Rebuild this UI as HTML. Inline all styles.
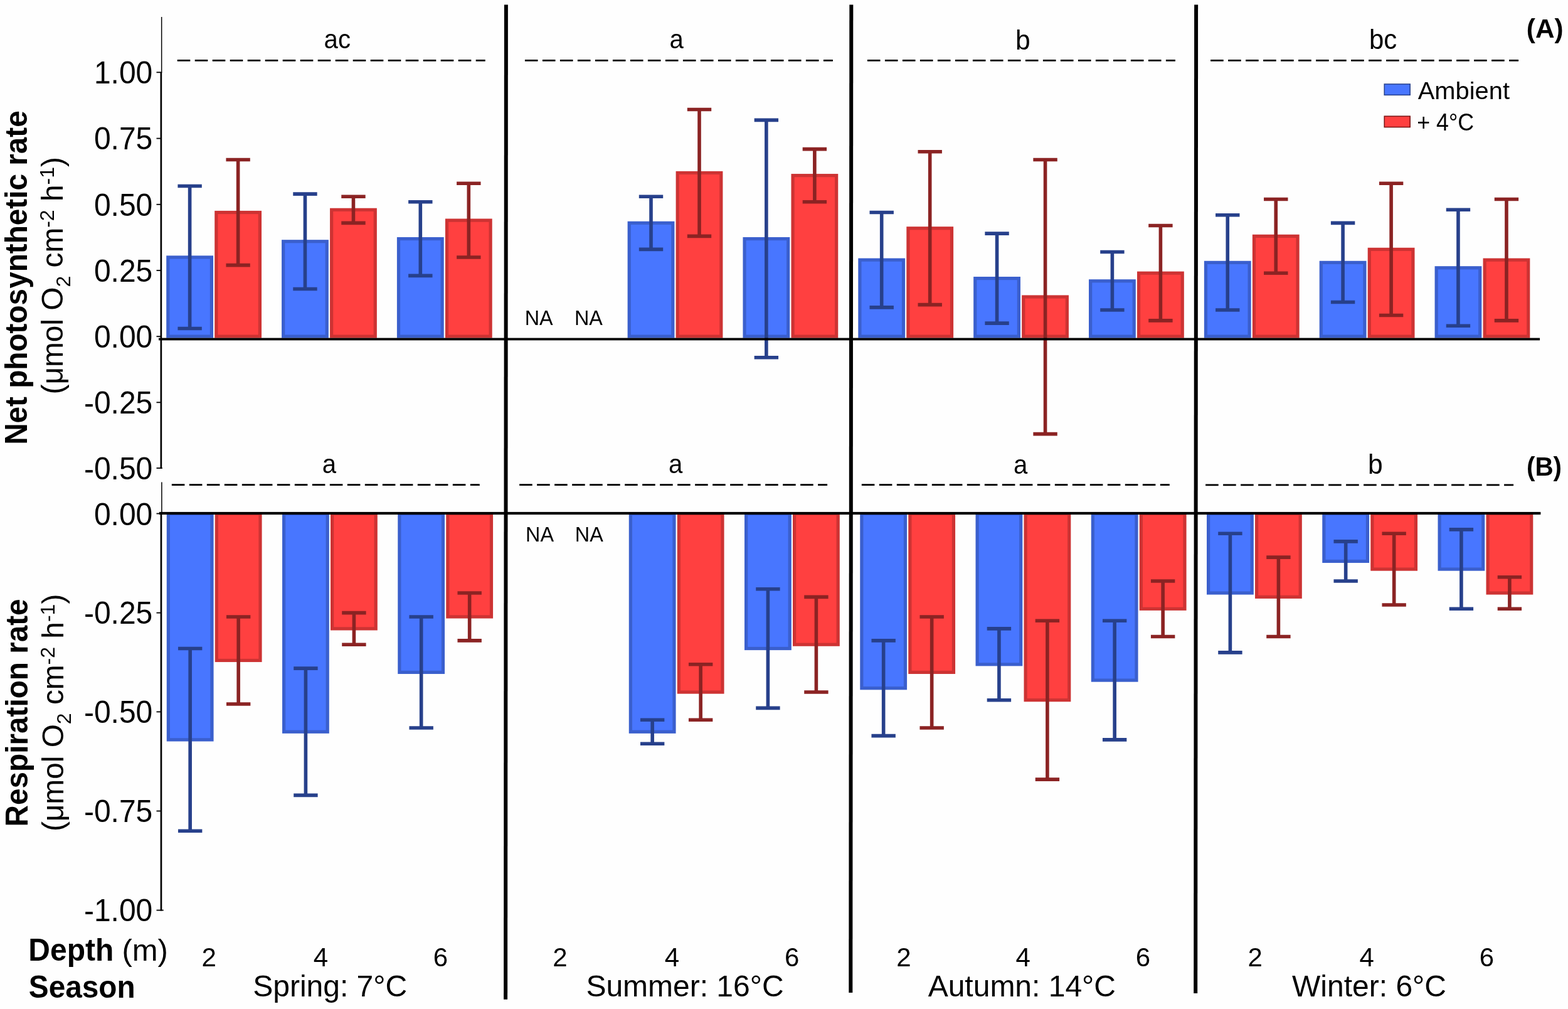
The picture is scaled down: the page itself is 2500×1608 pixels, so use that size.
<!DOCTYPE html>
<html lang="en"><head><meta charset="utf-8"><title>Net photosynthetic and respiration rates by season and depth</title>
<style>html,body{margin:0;padding:0;background:#fff}body{width:2500px;height:1608px;overflow:hidden}svg{display:block}text{font-family:"Liberation Sans",sans-serif;fill:#000}.b{font-weight:bold}</style></head><body>
<svg width="2500" height="1608" viewBox="0 0 2500 1608">
<rect width="2500" height="1608" fill="#fefefe"/>
<g id="barsA">
<rect x="265.2" y="407.38" width="74.8" height="131.32" fill="#3A5FCD"/>
<rect x="270.4" y="412.58" width="64.4" height="120.92" fill="#4876FF"/>
<rect x="342.2" y="335.91" width="74.8" height="202.79" fill="#CD3333"/>
<rect x="347.4" y="341.11" width="64.4" height="192.39" fill="#FF4040"/>
<rect x="449.05" y="382.16" width="74.8" height="156.54" fill="#3A5FCD"/>
<rect x="454.25" y="387.36" width="64.4" height="146.14" fill="#4876FF"/>
<rect x="526.05" y="331.71" width="74.8" height="206.99" fill="#CD3333"/>
<rect x="531.25" y="336.91" width="64.4" height="196.59" fill="#FF4040"/>
<rect x="632.9" y="377.95" width="74.8" height="160.75" fill="#3A5FCD"/>
<rect x="638.1" y="383.15" width="64.4" height="150.35" fill="#4876FF"/>
<rect x="709.9" y="348.52" width="74.8" height="190.18" fill="#CD3333"/>
<rect x="715.1" y="353.72" width="64.4" height="179.78" fill="#FF4040"/>
<rect x="1000.6" y="352.73" width="74.8" height="185.97" fill="#3A5FCD"/>
<rect x="1005.8" y="357.93" width="64.4" height="175.57" fill="#4876FF"/>
<rect x="1077.6" y="272.85" width="74.8" height="265.85" fill="#CD3333"/>
<rect x="1082.8" y="278.05" width="64.4" height="255.45" fill="#FF4040"/>
<rect x="1184.45" y="377.95" width="74.8" height="160.75" fill="#3A5FCD"/>
<rect x="1189.65" y="383.15" width="64.4" height="150.35" fill="#4876FF"/>
<rect x="1261.45" y="277.06" width="74.8" height="261.64" fill="#CD3333"/>
<rect x="1266.65" y="282.26" width="64.4" height="251.24" fill="#FF4040"/>
<rect x="1368.3" y="411.58" width="74.8" height="127.12" fill="#3A5FCD"/>
<rect x="1373.5" y="416.78" width="64.4" height="116.72" fill="#4876FF"/>
<rect x="1445.3" y="361.14" width="74.8" height="177.56" fill="#CD3333"/>
<rect x="1450.5" y="366.34" width="64.4" height="167.16" fill="#FF4040"/>
<rect x="1552.15" y="441.01" width="74.8" height="97.69" fill="#3A5FCD"/>
<rect x="1557.35" y="446.21" width="64.4" height="87.29" fill="#4876FF"/>
<rect x="1629.15" y="470.44" width="74.8" height="68.26" fill="#CD3333"/>
<rect x="1634.35" y="475.64" width="64.4" height="57.86" fill="#FF4040"/>
<rect x="1736" y="445.22" width="74.8" height="93.48" fill="#3A5FCD"/>
<rect x="1741.2" y="450.42" width="64.4" height="83.08" fill="#4876FF"/>
<rect x="1813" y="432.6" width="74.8" height="106.1" fill="#CD3333"/>
<rect x="1818.2" y="437.8" width="64.4" height="95.7" fill="#FF4040"/>
<rect x="1919.85" y="415.79" width="74.8" height="122.91" fill="#3A5FCD"/>
<rect x="1925.05" y="420.99" width="64.4" height="112.51" fill="#4876FF"/>
<rect x="1996.85" y="373.75" width="74.8" height="164.95" fill="#CD3333"/>
<rect x="2002.05" y="378.95" width="64.4" height="154.55" fill="#FF4040"/>
<rect x="2103.7" y="415.79" width="74.8" height="122.91" fill="#3A5FCD"/>
<rect x="2108.9" y="420.99" width="64.4" height="112.51" fill="#4876FF"/>
<rect x="2180.7" y="394.77" width="74.8" height="143.93" fill="#CD3333"/>
<rect x="2185.9" y="399.97" width="64.4" height="133.53" fill="#FF4040"/>
<rect x="2287.55" y="424.2" width="74.8" height="114.5" fill="#3A5FCD"/>
<rect x="2292.75" y="429.4" width="64.4" height="104.1" fill="#4876FF"/>
<rect x="2364.55" y="411.58" width="74.8" height="127.12" fill="#CD3333"/>
<rect x="2369.75" y="416.78" width="64.4" height="116.72" fill="#FF4040"/>
</g>
<g id="errA">
<path d="M283.4 296.47H321.8M283.4 523.49H321.8M302.6 296.47V523.49" stroke="#27408B" stroke-width="5.6" fill="none"/>
<path d="M360.4 254.43H398.8M360.4 422.59H398.8M379.6 254.43V422.59" stroke="#8B2323" stroke-width="5.6" fill="none"/>
<path d="M467.25 309.08H505.65M467.25 460.43H505.65M486.45 309.08V460.43" stroke="#27408B" stroke-width="5.6" fill="none"/>
<path d="M544.25 313.29H582.65M544.25 355.33H582.65M563.45 313.29V355.33" stroke="#8B2323" stroke-width="5.6" fill="none"/>
<path d="M651.1 321.7H689.5M651.1 439.41H689.5M670.3 321.7V439.41" stroke="#27408B" stroke-width="5.6" fill="none"/>
<path d="M728.1 292.27H766.5M728.1 409.98H766.5M747.3 292.27V409.98" stroke="#8B2323" stroke-width="5.6" fill="none"/>
<path d="M1018.8 313.29H1057.2M1018.8 397.37H1057.2M1038 313.29V397.37" stroke="#27408B" stroke-width="5.6" fill="none"/>
<path d="M1095.8 174.56H1134.2M1095.8 376.35H1134.2M1115 174.56V376.35" stroke="#8B2323" stroke-width="5.6" fill="none"/>
<path d="M1202.65 191.37H1241.05M1202.65 569.73H1241.05M1221.85 191.37V569.73" stroke="#27408B" stroke-width="5.6" fill="none"/>
<path d="M1279.65 237.62H1318.05M1279.65 321.7H1318.05M1298.85 237.62V321.7" stroke="#8B2323" stroke-width="5.6" fill="none"/>
<path d="M1386.5 338.51H1424.9M1386.5 489.86H1424.9M1405.7 338.51V489.86" stroke="#27408B" stroke-width="5.6" fill="none"/>
<path d="M1463.5 241.82H1501.9M1463.5 485.65H1501.9M1482.7 241.82V485.65" stroke="#8B2323" stroke-width="5.6" fill="none"/>
<path d="M1570.35 372.14H1608.75M1570.35 515.08H1608.75M1589.55 372.14V515.08" stroke="#27408B" stroke-width="5.6" fill="none"/>
<path d="M1647.35 254.43H1685.75M1647.35 691.65H1685.75M1666.55 254.43V691.65" stroke="#8B2323" stroke-width="5.6" fill="none"/>
<path d="M1754.2 401.57H1792.6M1754.2 494.06H1792.6M1773.4 401.57V494.06" stroke="#27408B" stroke-width="5.6" fill="none"/>
<path d="M1831.2 359.53H1869.6M1831.2 510.88H1869.6M1850.4 359.53V510.88" stroke="#8B2323" stroke-width="5.6" fill="none"/>
<path d="M1938.05 342.72H1976.45M1938.05 494.06H1976.45M1957.25 342.72V494.06" stroke="#27408B" stroke-width="5.6" fill="none"/>
<path d="M2015.05 317.49H2053.45M2015.05 435.2H2053.45M2034.25 317.49V435.2" stroke="#8B2323" stroke-width="5.6" fill="none"/>
<path d="M2121.9 355.33H2160.3M2121.9 481.45H2160.3M2141.1 355.33V481.45" stroke="#27408B" stroke-width="5.6" fill="none"/>
<path d="M2198.9 292.27H2237.3M2198.9 502.47H2237.3M2218.1 292.27V502.47" stroke="#8B2323" stroke-width="5.6" fill="none"/>
<path d="M2305.75 334.31H2344.15M2305.75 519.28H2344.15M2324.95 334.31V519.28" stroke="#27408B" stroke-width="5.6" fill="none"/>
<path d="M2382.75 317.49H2421.15M2382.75 510.88H2421.15M2401.95 317.49V510.88" stroke="#8B2323" stroke-width="5.6" fill="none"/>
</g>
<g id="barsB">
<rect x="265.75" y="816" width="74.8" height="365.5" fill="#3A5FCD"/>
<rect x="270.95" y="821.2" width="64.4" height="355.1" fill="#4876FF"/>
<rect x="342.75" y="816" width="74.8" height="239.08" fill="#CD3333"/>
<rect x="347.95" y="821.2" width="64.4" height="228.68" fill="#FF4040"/>
<rect x="450" y="816" width="74.8" height="352.86" fill="#3A5FCD"/>
<rect x="455.2" y="821.2" width="64.4" height="342.46" fill="#4876FF"/>
<rect x="527" y="816" width="74.8" height="188.51" fill="#CD3333"/>
<rect x="532.2" y="821.2" width="64.4" height="178.11" fill="#FF4040"/>
<rect x="634.25" y="816" width="74.8" height="258.04" fill="#3A5FCD"/>
<rect x="639.45" y="821.2" width="64.4" height="247.64" fill="#4876FF"/>
<rect x="711.25" y="816" width="74.8" height="169.55" fill="#CD3333"/>
<rect x="716.45" y="821.2" width="64.4" height="159.15" fill="#FF4040"/>
<rect x="1002.75" y="816" width="74.8" height="352.86" fill="#3A5FCD"/>
<rect x="1007.95" y="821.2" width="64.4" height="342.46" fill="#4876FF"/>
<rect x="1079.75" y="816" width="74.8" height="289.64" fill="#CD3333"/>
<rect x="1084.95" y="821.2" width="64.4" height="279.25" fill="#FF4040"/>
<rect x="1187" y="816" width="74.8" height="220.11" fill="#3A5FCD"/>
<rect x="1192.2" y="821.2" width="64.4" height="209.71" fill="#4876FF"/>
<rect x="1264" y="816" width="74.8" height="213.79" fill="#CD3333"/>
<rect x="1269.2" y="821.2" width="64.4" height="203.39" fill="#FF4040"/>
<rect x="1371.25" y="816" width="74.8" height="283.32" fill="#3A5FCD"/>
<rect x="1376.45" y="821.2" width="64.4" height="272.92" fill="#4876FF"/>
<rect x="1448.25" y="816" width="74.8" height="258.04" fill="#CD3333"/>
<rect x="1453.45" y="821.2" width="64.4" height="247.64" fill="#FF4040"/>
<rect x="1555.5" y="816" width="74.8" height="245.4" fill="#3A5FCD"/>
<rect x="1560.7" y="821.2" width="64.4" height="235" fill="#4876FF"/>
<rect x="1632.5" y="816" width="74.8" height="302.29" fill="#CD3333"/>
<rect x="1637.7" y="821.2" width="64.4" height="291.89" fill="#FF4040"/>
<rect x="1739.75" y="816" width="74.8" height="270.68" fill="#3A5FCD"/>
<rect x="1744.95" y="821.2" width="64.4" height="260.28" fill="#4876FF"/>
<rect x="1816.75" y="816" width="74.8" height="156.9" fill="#CD3333"/>
<rect x="1821.95" y="821.2" width="64.4" height="146.5" fill="#FF4040"/>
<rect x="1924" y="816" width="74.8" height="131.62" fill="#3A5FCD"/>
<rect x="1929.2" y="821.2" width="64.4" height="121.22" fill="#4876FF"/>
<rect x="2001" y="816" width="74.8" height="137.94" fill="#CD3333"/>
<rect x="2006.2" y="821.2" width="64.4" height="127.54" fill="#FF4040"/>
<rect x="2108.25" y="816" width="74.8" height="81.05" fill="#3A5FCD"/>
<rect x="2113.45" y="821.2" width="64.4" height="70.65" fill="#4876FF"/>
<rect x="2185.25" y="816" width="74.8" height="93.69" fill="#CD3333"/>
<rect x="2190.45" y="821.2" width="64.4" height="83.29" fill="#FF4040"/>
<rect x="2292.5" y="816" width="74.8" height="93.69" fill="#3A5FCD"/>
<rect x="2297.7" y="821.2" width="64.4" height="83.29" fill="#4876FF"/>
<rect x="2369.5" y="816" width="74.8" height="131.62" fill="#CD3333"/>
<rect x="2374.7" y="821.2" width="64.4" height="121.22" fill="#FF4040"/>
</g>
<g id="errB">
<path d="M283.95 1033.51H322.35M283.95 1324.28H322.35M303.15 1033.51V1324.28" stroke="#27408B" stroke-width="5.6" fill="none"/>
<path d="M360.95 982.95H399.35M360.95 1122.01H399.35M380.15 982.95V1122.01" stroke="#8B2323" stroke-width="5.6" fill="none"/>
<path d="M468.2 1065.12H506.6M468.2 1267.39H506.6M487.4 1065.12V1267.39" stroke="#27408B" stroke-width="5.6" fill="none"/>
<path d="M545.2 976.62H583.6M545.2 1027.19H583.6M564.4 976.62V1027.19" stroke="#8B2323" stroke-width="5.6" fill="none"/>
<path d="M652.45 982.95H690.85M652.45 1159.93H690.85M671.65 982.95V1159.93" stroke="#27408B" stroke-width="5.6" fill="none"/>
<path d="M729.45 945.02H767.85M729.45 1020.87H767.85M748.65 945.02V1020.87" stroke="#8B2323" stroke-width="5.6" fill="none"/>
<path d="M1020.95 1147.29H1059.35M1020.95 1185.22H1059.35M1040.15 1147.29V1185.22" stroke="#27408B" stroke-width="5.6" fill="none"/>
<path d="M1097.95 1058.8H1136.35M1097.95 1147.29H1136.35M1117.15 1058.8V1147.29" stroke="#8B2323" stroke-width="5.6" fill="none"/>
<path d="M1205.2 938.7H1243.6M1205.2 1128.33H1243.6M1224.4 938.7V1128.33" stroke="#27408B" stroke-width="5.6" fill="none"/>
<path d="M1282.2 951.34H1320.6M1282.2 1103.05H1320.6M1301.4 951.34V1103.05" stroke="#8B2323" stroke-width="5.6" fill="none"/>
<path d="M1389.45 1020.87H1427.85M1389.45 1172.58H1427.85M1408.65 1020.87V1172.58" stroke="#27408B" stroke-width="5.6" fill="none"/>
<path d="M1466.45 982.95H1504.85M1466.45 1159.93H1504.85M1485.65 982.95V1159.93" stroke="#8B2323" stroke-width="5.6" fill="none"/>
<path d="M1573.7 1001.91H1612.1M1573.7 1115.69H1612.1M1592.9 1001.91V1115.69" stroke="#27408B" stroke-width="5.6" fill="none"/>
<path d="M1650.7 989.27H1689.1M1650.7 1242.11H1689.1M1669.9 989.27V1242.11" stroke="#8B2323" stroke-width="5.6" fill="none"/>
<path d="M1757.95 989.27H1796.35M1757.95 1178.9H1796.35M1777.15 989.27V1178.9" stroke="#27408B" stroke-width="5.6" fill="none"/>
<path d="M1834.95 926.06H1873.35M1834.95 1014.55H1873.35M1854.15 926.06V1014.55" stroke="#8B2323" stroke-width="5.6" fill="none"/>
<path d="M1942.2 850.21H1980.6M1942.2 1039.84H1980.6M1961.4 850.21V1039.84" stroke="#27408B" stroke-width="5.6" fill="none"/>
<path d="M2019.2 888.13H2057.6M2019.2 1014.55H2057.6M2038.4 888.13V1014.55" stroke="#8B2323" stroke-width="5.6" fill="none"/>
<path d="M2126.45 862.85H2164.85M2126.45 926.06H2164.85M2145.65 862.85V926.06" stroke="#27408B" stroke-width="5.6" fill="none"/>
<path d="M2203.45 850.21H2241.85M2203.45 963.98H2241.85M2222.65 850.21V963.98" stroke="#8B2323" stroke-width="5.6" fill="none"/>
<path d="M2310.7 843.88H2349.1M2310.7 970.3H2349.1M2329.9 843.88V970.3" stroke="#27408B" stroke-width="5.6" fill="none"/>
<path d="M2387.7 919.74H2426.1M2387.7 970.3H2426.1M2406.9 919.74V970.3" stroke="#8B2323" stroke-width="5.6" fill="none"/>
</g>
<g fill="#000">
<rect x="253" y="538.6" width="2202.1" height="3.8"/>
<rect x="253.8" y="815.9" width="2202.6" height="4.2"/>
<path d="M803.9 7.5h6L809.1 1592.8h-6z"/>
<path d="M1354.3 7.5h6L1359.3 1582h-6z"/>
<path d="M1904.1 7.5h6L1909.2 1583h-6z"/>
<rect x="256.9" y="27" width="1.5" height="89"/>
<rect x="255.5" y="115" width="2.7" height="631.8"/>
<rect x="257.1" y="768.4" width="1.5" height="50"/>
<rect x="255.6" y="818" width="2.7" height="633.5"/>
<rect x="249.5" y="114.4" width="8" height="1.8"/>
<rect x="249.5" y="219.7" width="8" height="1.8"/>
<rect x="249.5" y="324.9" width="8" height="1.8"/>
<rect x="249.5" y="430.1" width="8" height="1.8"/>
<rect x="249.5" y="535.3" width="8" height="1.8"/>
<rect x="249.5" y="640.4" width="8" height="1.8"/>
<rect x="249.5" y="745.1" width="9.3" height="1.8"/>
<rect x="249.5" y="817.6" width="8" height="1.8"/>
<rect x="249.5" y="975.7" width="8" height="1.8"/>
<rect x="249.5" y="1133.5" width="8" height="1.8"/>
<rect x="249.5" y="1291.6" width="8" height="1.8"/>
<rect x="249.5" y="1449.7" width="11.2" height="1.8"/>
</g>
<g stroke="#000" stroke-width="2.8" stroke-dasharray="20.6 7.4" fill="none">
<path d="M282.7 96.4h491"/>
<path d="M836.9 96.4h491"/>
<path d="M1382.9 96.4h491"/>
<path d="M1930.1 96.4h491"/>
<path d="M273.8 772.7h491"/>
<path d="M828.1 772.7h491"/>
<path d="M1373.8 772.7h491"/>
<path d="M1922.1 772.9h491"/>
</g>
<rect x="2207.2" y="134" width="41" height="17.4" fill="#4876FF" stroke="#27408B" stroke-width="1.5"/>
<rect x="2207.2" y="185.2" width="41" height="17.4" fill="#FF4040" stroke="#7A1212" stroke-width="1.5"/>
<text transform="translate(243.3 133.4) scale(1 1.03)" font-size="48" text-anchor="end">1.00</text>
<text transform="translate(243.3 238.2) scale(1 1.03)" font-size="48" text-anchor="end">0.75</text>
<text transform="translate(243.3 343.6) scale(1 1.03)" font-size="48" text-anchor="end">0.50</text>
<text transform="translate(243.3 448.7) scale(1 1.03)" font-size="48" text-anchor="end">0.25</text>
<text transform="translate(243.3 553.6) scale(1 1.03)" font-size="48" text-anchor="end">0.00</text>
<text transform="translate(243.3 659) scale(1 1.03)" font-size="48" text-anchor="end">-0.25</text>
<text transform="translate(243.3 763.9) scale(1 1.03)" font-size="48" text-anchor="end">-0.50</text>
<text transform="translate(243.3 836.5) scale(1 1.03)" font-size="48" text-anchor="end">0.00</text>
<text transform="translate(243.3 994.4) scale(1 1.03)" font-size="48" text-anchor="end">-0.25</text>
<text transform="translate(243.3 1152.2) scale(1 1.03)" font-size="48" text-anchor="end">-0.50</text>
<text transform="translate(243.3 1310.4) scale(1 1.03)" font-size="48" text-anchor="end">-0.75</text>
<text transform="translate(243.3 1468.2) scale(1 1.03)" font-size="48" text-anchor="end">-1.00</text>
<text transform="translate(537.8 77.3) scale(0.925 1)" font-size="43.4" text-anchor="middle">ac</text>
<text transform="translate(1078.7 77.3) scale(0.925 1)" font-size="43.4" text-anchor="middle">a</text>
<text transform="translate(1630.7 78.5) scale(0.98 1.035)" font-size="43.4" text-anchor="middle">b</text>
<text transform="translate(2205.1 78.4) scale(0.965 1.035)" font-size="43.4" text-anchor="middle">bc</text>
<text transform="translate(525 753.6) scale(0.925 1)" font-size="43.4" text-anchor="middle">a</text>
<text transform="translate(1077.2 753.6) scale(0.925 1)" font-size="43.4" text-anchor="middle">a</text>
<text transform="translate(1627.2 755.4) scale(0.925 1)" font-size="43.4" text-anchor="middle">a</text>
<text transform="translate(2192.7 754.8) scale(0.98 1.035)" font-size="43.4" text-anchor="middle">b</text>
<text transform="translate(2463.2 60) scale(0.985 1)" font-size="43" text-anchor="middle" class="b">(A)</text>
<text transform="translate(2462 758) scale(0.94 1)" font-size="43" text-anchor="middle" class="b">(B)</text>
<text transform="translate(859.1 517.8) scale(0.985 1)" font-size="32.8" text-anchor="middle">NA</text>
<text transform="translate(938.4 517.8) scale(0.985 1)" font-size="32.8" text-anchor="middle">NA</text>
<text transform="translate(860.5 862.9) scale(0.985 1)" font-size="32.8" text-anchor="middle">NA</text>
<text transform="translate(939.3 862.9) scale(0.985 1)" font-size="32.8" text-anchor="middle">NA</text>
<text transform="translate(2260.7 158.4) scale(1.01 1)" font-size="39.5">Ambient</text>
<text transform="translate(2259.3 207.5) scale(0.905 1)" font-size="39.5">+ 4°C</text>
<text transform="translate(333.2 1540.1) scale(1 1.02)" font-size="42" text-anchor="middle">2</text>
<text transform="translate(511.4 1540.1) scale(1 1.02)" font-size="42" text-anchor="middle">4</text>
<text transform="translate(702.4 1540.1) scale(1 1.02)" font-size="42" text-anchor="middle">6</text>
<text transform="translate(892.9 1540.1) scale(1 1.02)" font-size="42" text-anchor="middle">2</text>
<text transform="translate(1071.5 1540.1) scale(1 1.02)" font-size="42" text-anchor="middle">4</text>
<text transform="translate(1262.7 1540.1) scale(1 1.02)" font-size="42" text-anchor="middle">6</text>
<text transform="translate(1440.9 1540.1) scale(1 1.02)" font-size="42" text-anchor="middle">2</text>
<text transform="translate(1631.3 1540.1) scale(1 1.02)" font-size="42" text-anchor="middle">4</text>
<text transform="translate(1822.4 1540.1) scale(1 1.02)" font-size="42" text-anchor="middle">6</text>
<text transform="translate(2001.2 1540.1) scale(1 1.02)" font-size="42" text-anchor="middle">2</text>
<text transform="translate(2179.3 1540.1) scale(1 1.02)" font-size="42" text-anchor="middle">4</text>
<text transform="translate(2370.4 1540.1) scale(1 1.02)" font-size="42" text-anchor="middle">6</text>
<text transform="translate(526.2 1587.6) scale(1 1.02)" font-size="48" text-anchor="middle">Spring: 7°C</text>
<text transform="translate(1092 1587.6) scale(1 1.02)" font-size="48" text-anchor="middle">Summer: 16°C</text>
<text transform="translate(1629.3 1587.6) scale(1 1.02)" font-size="48" text-anchor="middle">Autumn: 14°C</text>
<text transform="translate(2183 1587.6) scale(1 1.02)" font-size="48" text-anchor="middle">Winter: 6°C</text>
<text transform="translate(45.3 1530.9) scale(1 1.03)" font-size="48" class="b">Depth</text>
<text transform="translate(194.5 1530.9) scale(1.02 1.01)" font-size="48">(m)</text>
<text transform="translate(45.8 1589.8) scale(0.995 1.03)" font-size="48" class="b">Season</text>
<text transform="translate(43.2 442.6) rotate(-90) scale(1 1.03)" font-size="47.7" text-anchor="middle" class="b">Net photosynthetic rate</text>
<text transform="translate(100.3 439.3) rotate(-90)" font-size="47.8" text-anchor="middle">(μmol O<tspan dy="11.6" font-size="32">2</tspan><tspan dy="-11.6"> cm</tspan><tspan dy="-14" font-size="32">-2</tspan><tspan dy="14"> h</tspan><tspan dy="-14" font-size="32">-1</tspan><tspan dy="14">)</tspan></text>
<text transform="translate(44.1 1135.9) rotate(-90) scale(1 1.03)" font-size="47.7" text-anchor="middle" class="b">Respiration rate</text>
<text transform="translate(101.3 1135.9) rotate(-90)" font-size="47.8" text-anchor="middle">(μmol O<tspan dy="11.6" font-size="32">2</tspan><tspan dy="-11.6"> cm</tspan><tspan dy="-14" font-size="32">-2</tspan><tspan dy="14"> h</tspan><tspan dy="-14" font-size="32">-1</tspan><tspan dy="14">)</tspan></text>
</svg></body></html>
